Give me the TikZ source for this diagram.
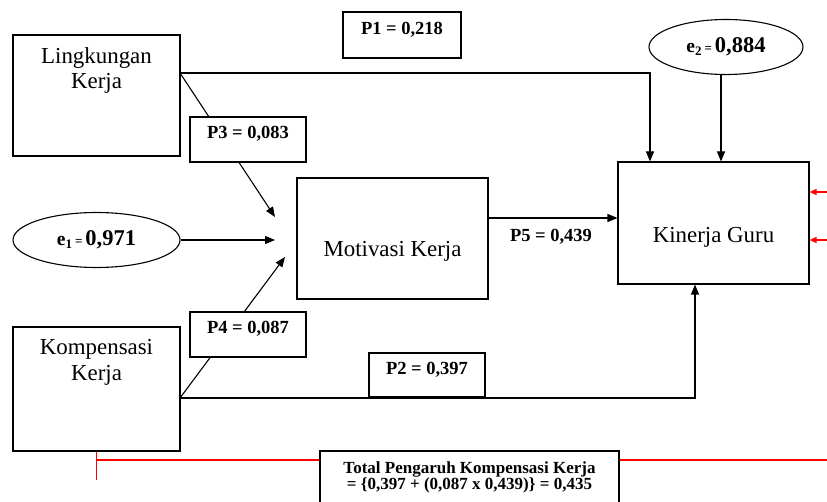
\documentclass[tikz,border=0pt]{standalone}
\usepackage{fontspec}
\setmainfont{Liberation Serif}
\usetikzlibrary{arrows.meta,shapes.geometric}
\tikzset{
  box/.style={draw, fill=white, inner sep=0pt},
  pbox/.style={box, minimum width=116, minimum height=45, text height=12pt, text depth=13pt,
    font=\fontsize{18.5}{22}\selectfont\bfseries},
  ebox/.style={draw, fill=white, ellipse, inner sep=0pt, minimum height=55, font=\bfseries},
  nametxt/.style={align=center, inner sep=0pt, font=\fontsize{22.9}{25.5}\selectfont},
  arr/.style={-{Triangle[length=10pt,width=8pt]}},
  redarr/.style={red, -{Triangle[length=7pt,width=6pt]}}
}
\newcommand{\elabel}[2]{{\fontsize{19.5}{19.5}\selectfont e}\raisebox{-3pt}{\fontsize{13}{13}\selectfont #1}\kern3pt{\fontsize{13}{13}\selectfont =}\kern3pt{\fontsize{22.5}{22.5}\selectfont #2}}
\begin{document}
\begin{tikzpicture}[x=1pt,y=-1pt,line width=1.1pt]
  \useasboundingbox (0,0) rectangle (827,502);
  % variables
  \node[box, minimum width=167, minimum height=121] (lk) at (96.5,95.5) {};
  \node[nametxt, anchor=north] (lktxt) at ([yshift=-12.5]lk.north) {Lingkungan\\Kerja};
  \node[box, minimum width=167, minimum height=124] (kk) at (96.5,389) {};
  \node[nametxt, anchor=north] (kktxt) at ([yshift=-12.5]kk.north) {Kompensasi\\Kerja};
  \node[box, nametxt, minimum width=191, minimum height=121, text height=40pt, text depth=3pt] (mk) at (392.5,238.5) {Motivasi Kerja};
  \node[box, nametxt, minimum width=191, minimum height=122, text height=42pt, text depth=2pt] (kg) at (713.5,223) {Kinerja Guru};
  \node[ebox, minimum width=167] (e1) at (96.5,240) {\elabel{1}{0,971}};
  \node[ebox, minimum width=154] (e2) at (726,47) {\elabel{2}{0,884}};
  % paths
  \coordinate (lkout) at (180,73);
  \coordinate (kgin) at (650,73);
  \coordinate (kkout) at (180,398);
  \coordinate (kgin2) at (695,398);
  \draw[arr] (lkout) -- (kgin) -- (kgin |- kg.north);
  \draw[arr] ([xshift=-5]e2.south) -- ([xshift=-5]e2.south |- kg.north);
  \draw[arr] (lkout) -- (275,217);
  \draw[arr] (e1.east) -- (275,240);
  \draw[arr] (kkout) -- (285,257);
  \draw[arr] (kkout) -- (kgin2) -- (kgin2 |- kg.south);
  \draw[arr] ([yshift=20.5]mk.east) -- ([yshift=20.5]mk.east -| kg.west);
  \node[font=\fontsize{18.5}{22}\selectfont\bfseries, anchor=base] (p5) at (551,242) {P5 = 0,439};
  \coordinate (r1) at (827,192);
  \coordinate (r2) at (827,240);
  \draw[redarr] (r1) -- (r1 -| kg.east);
  \draw[redarr] (r2) -- (r2 -| kg.east);
  % coefficients
  \node[pbox, minimum width=118, minimum height=46] (p1) at (402,35) {P1 = 0,218};
  \node[pbox] (p3) at (248,139.5) {P3 = 0,083};
  \node[pbox] (p4) at (248,334.5) {P4 = 0,087};
  \node[pbox, minimum height=44] (p2) at (427,375) {P2 = 0,397};
  % total effect
  \node[box, minimum width=299, minimum height=64] (tot) at (469.5,483) {};
  \node[align=center, inner sep=0pt, anchor=north, font=\fontsize{17}{13.5}\selectfont\bfseries] (tottxt)
    at ([yshift=-10.5]tot.north) {Total Pengaruh Kompensasi Kerja\\= \{0,397 + (0,087 x 0,439)\} = 0,435};
  \coordinate (rb) at (96.5,460);
  \draw[red] (kk.south) -- ++(0,28);
  \draw[red] (rb) -- (rb -| tot.west);
  \draw[red] (rb -| tot.east) -- (827,460);
\end{tikzpicture}
\end{document}
